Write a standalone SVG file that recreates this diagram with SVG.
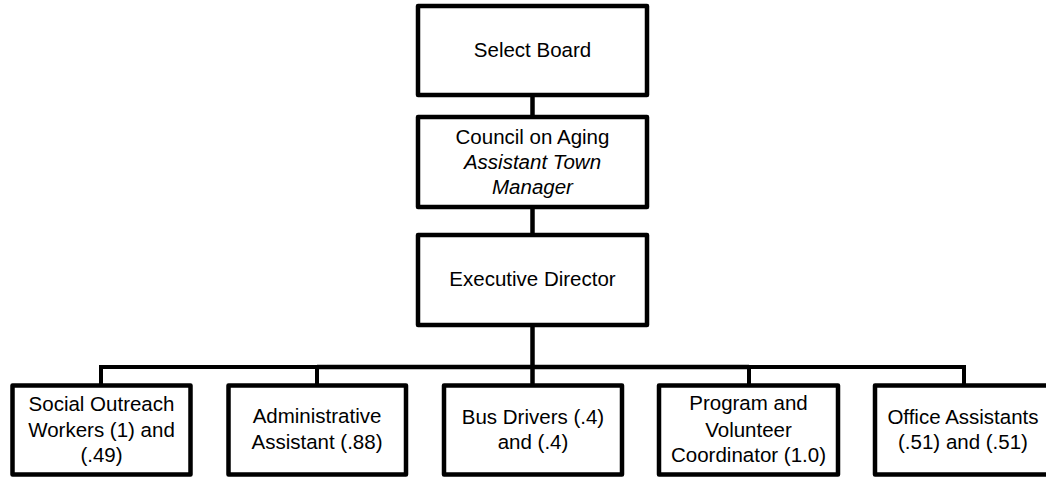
<svg xmlns="http://www.w3.org/2000/svg" width="1046" height="477" viewBox="0 0 1046 477">
<style>
.box{fill:#fff;stroke:#000;stroke-width:4.5;stroke-linejoin:round}
.line{fill:none;stroke:#000;stroke-width:4.5}
.thin{fill:none;stroke:#000;stroke-width:4}
text{font-family:"Liberation Sans",Arial,sans-serif;font-size:20.5px;fill:#000;text-anchor:middle}
.it{font-style:italic}
</style>
<rect width="1046" height="477" fill="#fff"/>
<g id="connectors">
<line class="line" x1="532.5" y1="95" x2="532.5" y2="117"/>
<line class="line" x1="532.5" y1="207" x2="532.5" y2="235"/>
<line class="line" x1="532.5" y1="325" x2="532.5" y2="385"/>
<line class="line" x1="317" y1="367" x2="749" y2="367"/>
<polyline class="thin" points="101,385 101,367 317,367 317,385"/>
<polyline class="thin" points="749,385 749,367 964,367 964,385"/>
</g>
<g id="select-board">
<rect class="box" x="418" y="6" width="229" height="89"/>
<text x="532.5" y="57">Select Board</text>
</g>
<g id="council">
<rect class="box" x="418" y="117" width="229" height="90"/>
<text x="532.5" y="144">Council on Aging</text>
<text class="it" x="532.5" y="169">Assistant Town</text>
<text class="it" x="532.5" y="194">Manager</text>
</g>
<g id="executive-director">
<rect class="box" x="418" y="235" width="229" height="90"/>
<text x="532.5" y="286">Executive Director</text>
</g>
<g id="social-outreach">
<rect class="box" x="12.5" y="385.5" width="178" height="89"/>
<text x="101.5" y="411">Social Outreach</text>
<text x="101.5" y="437">Workers (1) and</text>
<text x="101.5" y="462">(.49)</text>
</g>
<g id="administrative-assistant">
<rect class="box" x="228.5" y="385.5" width="177.5" height="89"/>
<text x="317" y="423">Administrative</text>
<text x="317" y="449">Assistant (.88)</text>
</g>
<g id="bus-drivers">
<rect class="box" x="444" y="385.5" width="178" height="89"/>
<text x="533" y="424">Bus Drivers (.4)</text>
<text x="533" y="449">and (.4)</text>
</g>
<g id="program-coordinator">
<rect class="box" x="659" y="385.5" width="179" height="89"/>
<text x="748.5" y="410">Program and</text>
<text x="748.5" y="437">Volunteer</text>
<text x="748.5" y="462">Coordinator (1.0)</text>
</g>
<g id="office-assistants">
<rect class="box" x="875" y="385.5" width="178" height="89"/>
<text x="963" y="424">Office Assistants</text>
<text x="963" y="449">(.51) and (.51)</text>
</g>
</svg>
